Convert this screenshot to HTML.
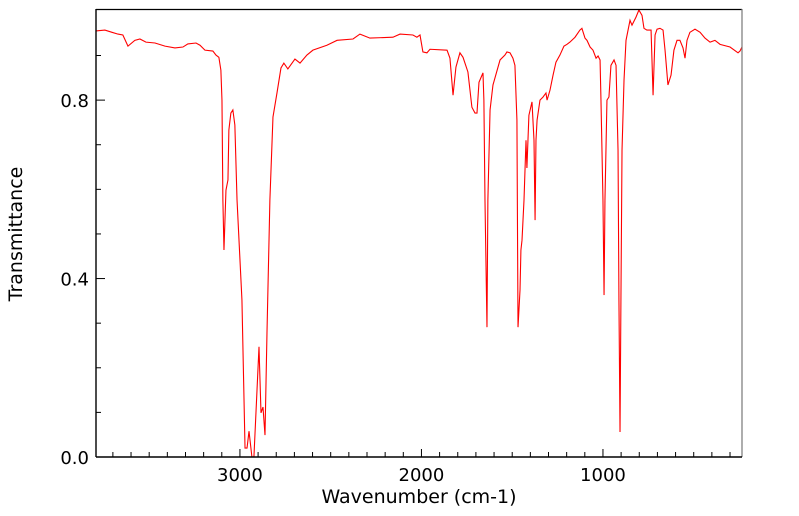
<!DOCTYPE html>
<html><head><meta charset="utf-8"><style>
html,body{margin:0;padding:0;background:#fff;}
svg{display:block;font-family:"DejaVu Sans","Liberation Sans",sans-serif;}
</style></head><body>
<svg id="chart" width="799" height="516" viewBox="0 0 799 516" xmlns="http://www.w3.org/2000/svg">
<defs><clipPath id="clip"><rect x="96" y="9" width="646" height="449"/></clipPath></defs>
<g id="ticks"></g>
<path id="spectrum" fill="none" stroke="#ff0000" stroke-width="1.1" clip-path="url(#clip)"/>
<line x1="96" y1="9.5" x2="742" y2="9.5" stroke="#000" stroke-width="1.2"/>
<line x1="742" y1="9" x2="742" y2="457" stroke="#777" stroke-width="1.2"/>
<line x1="96" y1="9" x2="96" y2="457" stroke="#000" stroke-width="1.4"/>
<line x1="96" y1="457" x2="742" y2="457" stroke="#000" stroke-width="1.4"/>
<g id="labels"></g>
<text x="419" y="503" font-size="19" text-anchor="middle">Wavenumber (cm-1)</text>
<text x="0" y="0" font-size="19" text-anchor="middle" transform="translate(22,234) rotate(-90)">Transmittance</text>
</svg>
<script>
const wavenumbers = [3793,3744,3705,3672,3645,3617,3579,3551,3518,3468,3413,3358,3314,3287,3242,3220,3193,3149,3132,3116,3105,3099,3094,3088,3077,3066,3061,3050,3039,3028,3016,2989,2972,2961,2950,2934,2923,2895,2884,2873,2862,2851,2835,2818,2796,2774,2758,2736,2697,2669,2631,2598,2521,2465,2377,2339,2284,2157,2118,2047,2025,2008,1992,1970,1953,1859,1843,1826,1810,1788,1771,1744,1722,1705,1694,1683,1661,1656,1650,1639,1634,1622,1606,1567,1540,1529,1512,1496,1485,1474,1468,1457,1452,1446,1435,1424,1419,1408,1391,1380,1374,1369,1363,1347,1330,1314,1308,1292,1275,1259,1237,1215,1198,1182,1154,1127,1116,1099,1088,1071,1055,1038,1027,1016,1011,1000,994,989,978,967,956,939,928,917,912,906,901,895,884,873,851,840,818,802,785,774,758,735,724,713,702,686,669,658,642,625,609,592,576,559,548,537,521,493,465,438,410,383,355,300,256,245,234];
const transmittance = [0.955,0.957,0.952,0.948,0.946,0.921,0.934,0.937,0.930,0.928,0.921,0.917,0.919,0.926,0.928,0.923,0.912,0.910,0.901,0.896,0.867,0.800,0.576,0.464,0.598,0.621,0.733,0.771,0.778,0.744,0.576,0.352,0.020,0.020,0.058,0.000,0.000,0.247,0.099,0.112,0.049,0.278,0.576,0.762,0.816,0.872,0.883,0.870,0.892,0.883,0.901,0.912,0.923,0.934,0.937,0.948,0.939,0.941,0.948,0.946,0.941,0.946,0.908,0.906,0.914,0.912,0.894,0.811,0.874,0.906,0.896,0.863,0.784,0.771,0.771,0.840,0.861,0.800,0.576,0.291,0.576,0.778,0.834,0.890,0.901,0.908,0.906,0.894,0.878,0.755,0.291,0.374,0.464,0.486,0.576,0.710,0.648,0.766,0.796,0.710,0.531,0.710,0.755,0.800,0.807,0.816,0.800,0.822,0.856,0.885,0.901,0.921,0.925,0.930,0.941,0.957,0.961,0.939,0.934,0.919,0.912,0.894,0.899,0.890,0.800,0.576,0.363,0.576,0.800,0.807,0.878,0.890,0.878,0.688,0.352,0.056,0.352,0.688,0.845,0.934,0.979,0.968,0.986,1.002,0.990,0.961,0.957,0.957,0.811,0.946,0.959,0.961,0.957,0.912,0.834,0.856,0.912,0.934,0.934,0.917,0.894,0.934,0.952,0.959,0.952,0.939,0.930,0.934,0.925,0.919,0.906,0.910,0.919];
const xMajorTicks = [3000,2000,1000];
const xTickLabels = ["3000","2000","1000"];
const yMajorTicks = [0.0,0.4,0.8];
const yTickLabels = ["0.0","0.4","0.8"];

const X0=96,X1=742,Y0=457,Y1=10,WMAX=3793,WMIN=234,TMIN=0,TMAX=1.002;
function sx(w){return X0+(WMAX-w)/(WMAX-WMIN)*(X1-X0);}
function sy(t){return Y0-(t-TMIN)/(TMAX-TMIN)*(Y0-Y1);}
const NS="http://www.w3.org/2000/svg";
let d="";
for(let i=0;i<wavenumbers.length;i++){d+=(i?"L":"M")+sx(wavenumbers[i]).toFixed(2)+","+sy(transmittance[i]).toFixed(2);}
document.getElementById("spectrum").setAttribute("d",d);
const tg=document.getElementById("ticks");
const lg=document.getElementById("labels");
function line(x1,y1,x2,y2){const l=document.createElementNS(NS,"line");l.setAttribute("x1",x1);l.setAttribute("y1",y1);l.setAttribute("x2",x2);l.setAttribute("y2",y2);l.setAttribute("stroke","#000");l.setAttribute("stroke-width","1");tg.appendChild(l);return l;}
for(let w=300;w<=3700;w+=100){
  const x=sx(w); if(x<X0||x>X1) continue;
  const major=xMajorTicks.includes(w);
  const l=line(x,Y0,x,Y0-(major?8:5));
  
  
}
for(let k=1;k<=9;k++){
  const t=k/10; const y=sy(t);
  const major=yMajorTicks.some(v=>Math.abs(v-t)<1e-6);
  const l=line(X0,y,X0+(major?9:5),y);
  
  
}
xMajorTicks.forEach((w,i)=>{const t=document.createElementNS(NS,"text");t.setAttribute("x",sx(w));t.setAttribute("y",481);t.setAttribute("font-size","18");t.setAttribute("text-anchor","middle");t.textContent=xTickLabels[i];


lg.appendChild(t);});
yMajorTicks.forEach((v,i)=>{const t=document.createElementNS(NS,"text");t.setAttribute("x",89);t.setAttribute("y",sy(v)+7);t.setAttribute("font-size","18");t.setAttribute("text-anchor","end");t.textContent=yTickLabels[i];


lg.appendChild(t);});
</script>
</body></html>
